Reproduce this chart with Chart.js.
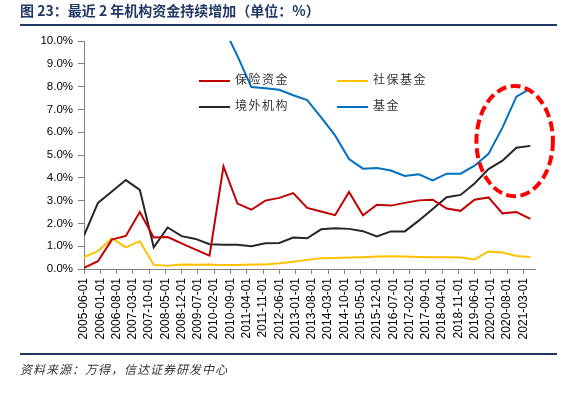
<!DOCTYPE html>
<html><head><meta charset="utf-8">
<script src="https://cdn.jsdelivr.net/npm/chart.js@4.4.1/dist/chart.umd.min.js"></script>
<style>
html,body{margin:0;padding:0;background:#fff;}
#wrap{position:relative;width:582px;height:393px;overflow:hidden;background:#fff;}
#c{position:absolute;left:0;top:0;}
.title{position:absolute;left:20px;top:2px;font:bold 14px "Noto Sans CJK SC";color:#1f3864;white-space:nowrap;line-height:16px;}
.hr{position:absolute;left:20px;width:537px;height:2px;background:#1f3864;}
.foot{position:absolute;left:20px;top:361px;font:italic 12px "Noto Sans CJK SC";color:#333;letter-spacing:1px;line-height:16px;white-space:nowrap;}
.leg{position:absolute;font:12px "Noto Sans CJK SC";color:#333;letter-spacing:1.5px;white-space:nowrap;line-height:14px;}
.leg i{display:inline-block;width:31px;height:2px;vertical-align:middle;margin-right:5px;}
</style>
</head><body>
<div id="wrap">
  <canvas id="c" width="582" height="393"></canvas>
  <div class="title">图 23：最近 2 年机构资金持续增加（单位：%）</div>
  <div class="hr" style="top:24px"></div>
  <div class="hr" style="top:353px"></div>
  <div class="foot">资料来源：万得，信达证券研发中心</div>
</div>
<script>
// semiannual observation dates
const dates = ["2005-06","2005-12","2006-06","2006-12","2007-06","2007-12","2008-06","2008-12","2009-06","2009-12",
  "2010-06","2010-12","2011-06","2011-12","2012-06","2012-12","2013-06","2013-12","2014-06","2014-12",
  "2015-06","2015-12","2016-06","2016-12","2017-06","2017-12","2018-06","2018-12","2019-06","2019-12",
  "2020-06","2020-12","2021-06"];
const insurance = [0.05,0.34,1.29,1.45,2.5,1.38,1.4,1.12,0.85,0.59,
  4.5,2.87,2.6,3.0,3.12,3.33,2.68,2.52,2.36,3.38,
  2.36,2.82,2.78,2.9,3.01,3.04,2.65,2.55,3.04,3.14,
  2.44,2.5,2.2];
const socialSecurity = [0.52,0.78,1.35,0.95,1.22,0.18,0.14,0.2,0.19,0.2,
  0.17,0.18,0.2,0.2,0.25,0.32,0.4,0.47,0.48,0.5,
  0.52,0.55,0.56,0.55,0.53,0.52,0.52,0.5,0.42,0.77,
  0.72,0.57,0.53];
const foreignInst = [1.47,2.9,3.4,3.9,3.47,0.95,1.82,1.44,1.32,1.09,
  1.06,1.06,1.0,1.13,1.14,1.38,1.35,1.74,1.79,1.76,
  1.66,1.43,1.65,1.65,2.12,2.63,3.15,3.25,3.75,4.38,
  4.75,5.32,5.4];
const funds = [null,null,null,null,null,null,null,null,null,null,
  10.6,9.35,7.98,7.93,7.86,7.62,7.41,6.65,5.86,4.82,
  4.4,4.43,4.32,4.08,4.15,3.89,4.18,4.18,4.53,5.05,
  6.2,7.56,7.91];
const tickLabels = ["2005-06-01","2006-01-01","2006-08-01","2007-03-01","2007-10-01","2008-05-01","2008-12-01",
  "2009-07-01","2010-02-01","2010-09-01","2011-04-01","2011-11-01","2012-06-01","2013-01-01","2013-08-01",
  "2014-03-01","2014-10-01","2015-05-01","2015-12-01","2016-07-01","2017-02-01","2017-09-01","2018-04-01",
  "2018-11-01","2019-06-01","2020-01-01","2020-08-01","2021-03-01"];
const seriesNames = ["保险资金","社保基金","境外机构","基金"];
const seriesColors = ["#C00000","#FFC000","#262626","#0070C0"];

const toMonth = s => { const p = s.split('-').map(Number); return (p[0]-2005)*12 + (p[1]-6); };
const pts = arr => dates.map((d,i)=>({x:toMonth(d), y:arr[i]}));
const tickMonths = tickLabels.map(toMonth);
const seriesData = [insurance, socialSecurity, foreignInst, funds];

const ellipsePlugin = {
  id:'ellipse',
  afterDatasetsDraw(chart){
    const xs = chart.scales.x, ys = chart.scales.y, ctx = chart.ctx;
    const x1 = xs.getPixelForValue(168.8), x2 = xs.getPixelForValue(201.7);
    const y1 = ys.getPixelForValue(8.03), y2 = ys.getPixelForValue(3.19);
    ctx.save();
    ctx.beginPath();
    ctx.ellipse((x1+x2)/2,(y1+y2)/2,(x2-x1)/2,(y2-y1)/2,0,0,Math.PI*2);
    ctx.setLineDash([10,4.5]);
    ctx.lineWidth = 4;
    ctx.strokeStyle = '#FF0000';
    ctx.stroke();
    ctx.restore();
  }
};

new Chart(document.getElementById('c'), {
  type:'line',
  data:{datasets: seriesData.map((arr,i)=>({
    label: seriesNames[i], data: pts(arr), borderColor: seriesColors[i], backgroundColor: seriesColors[i],
    borderWidth: 2, pointRadius: 0, tension: 0, fill: false
  }))},
  options:{
    responsive:false, animation:false, devicePixelRatio:1,
    layout:{padding:{left:0,right:47,top:41,bottom:47}},
    plugins:{legend:{display:false},tooltip:{enabled:false}},
    scales:{
      x:{type:'linear', min:0, max:194,
        afterBuildTicks: s => { s.ticks = tickMonths.map(v=>({value:v})); },
        afterFit: s => { s.height = 77; },
        ticks:{autoSkip:false, minRotation:90, maxRotation:90, padding:4, color:'#000',
          font:{family:'Liberation Sans', size:12}, callback:(v,i)=>tickLabels[i]},
        grid:{drawOnChartArea:false, drawTicks:true, tickLength:5, color:'#808080'},
        border:{display:true, color:'#808080', width:1}
      },
      y:{min:0, max:10,
        afterFit: s => { s.width = 84; },
        ticks:{stepSize:1, padding:5, color:'#000', font:{family:'Liberation Sans', size:11.5},
          callback:v=>v.toFixed(1)+'%'},
        grid:{drawOnChartArea:false, drawTicks:true, tickLength:6, color:'#808080'},
        border:{display:true, color:'#808080', width:1}
      }
    }
  },
  plugins:[ellipsePlugin]
});

// legend (two columns inside plot area)
const legPos = [[199,72],[337,72],[199,98],[337,98]];
const wrap = document.getElementById('wrap');
seriesNames.forEach((n,i)=>{
  const d = document.createElement('div');
  d.className='leg';
  d.style.left = legPos[i][0]+'px'; d.style.top = legPos[i][1]+'px';
  d.innerHTML = '<i style="background:'+seriesColors[i]+'"></i>'+n;
  wrap.appendChild(d);
});
</script>
</body></html>
